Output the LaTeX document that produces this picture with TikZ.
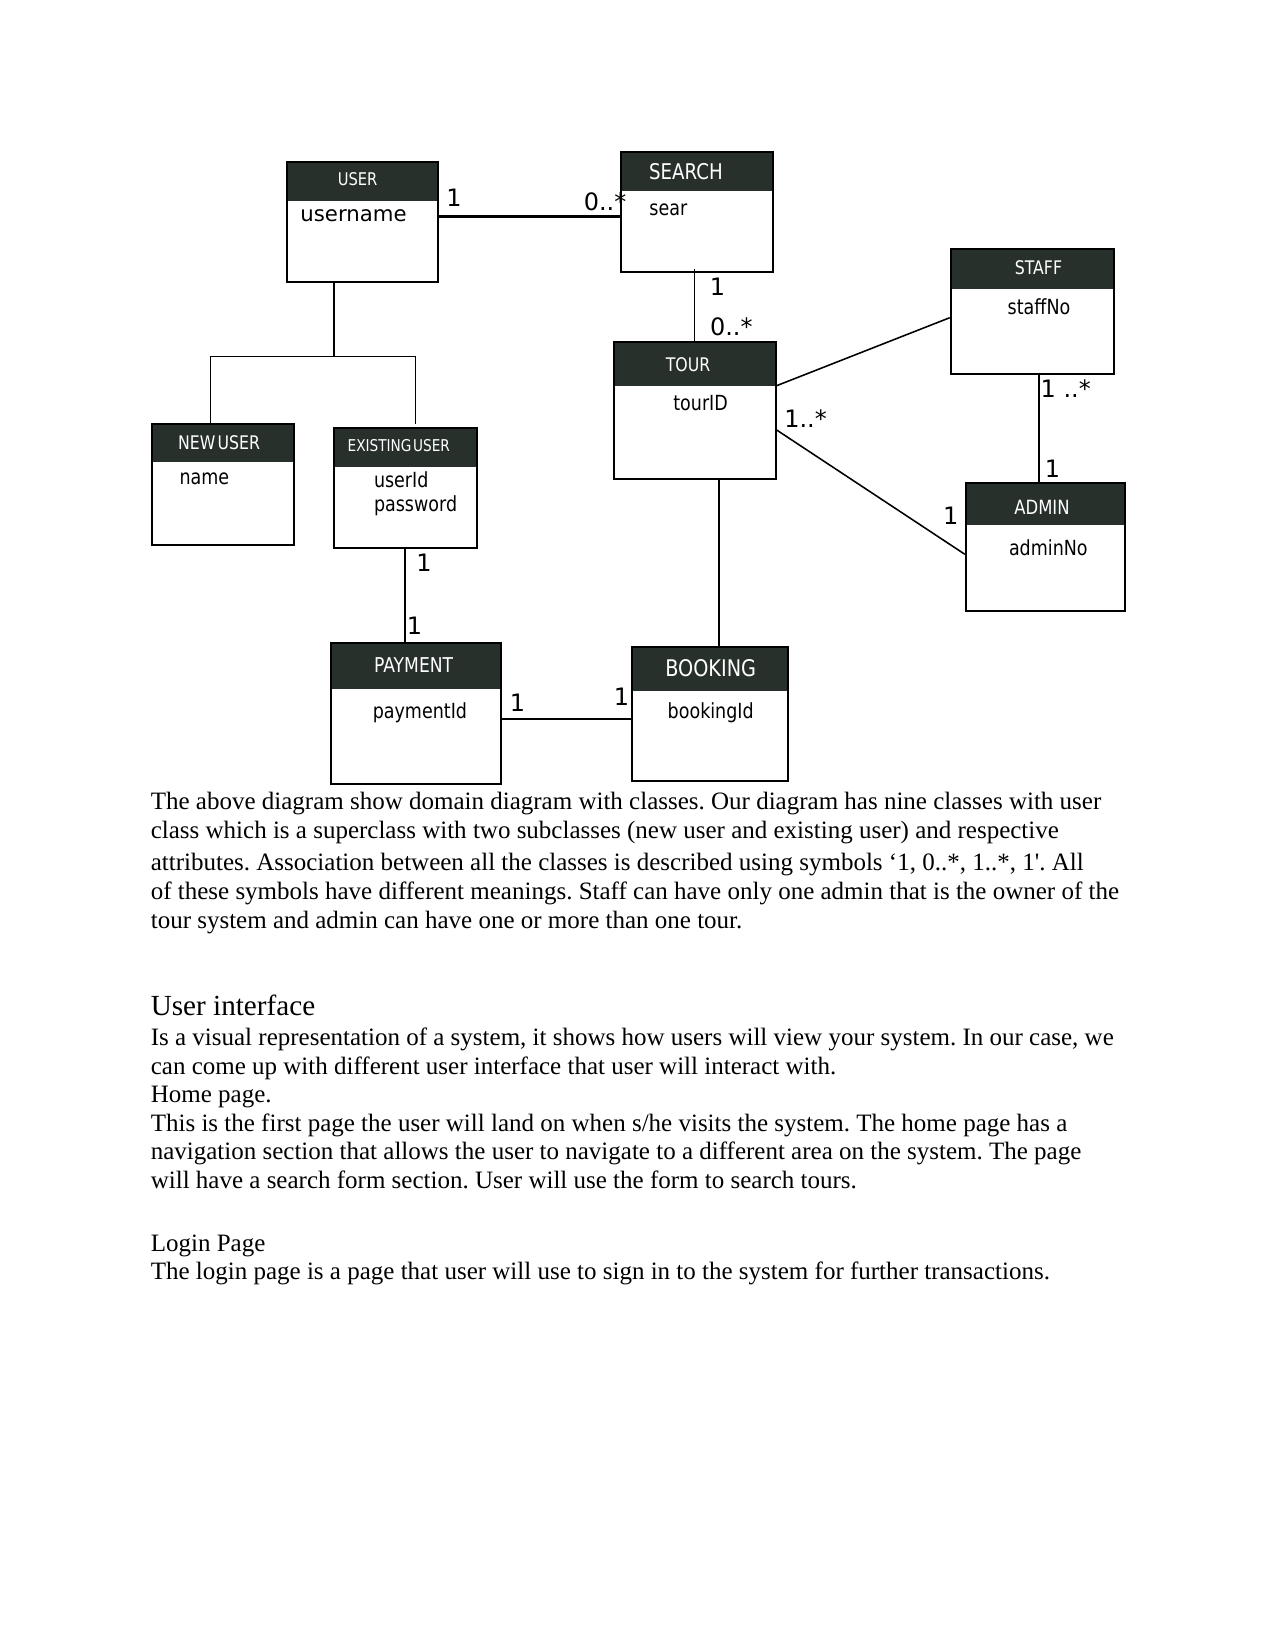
\documentclass[tikz,border=0pt]{standalone}
\usepackage{fontspec}
\usetikzlibrary{fit,calc}
\newfontfamily\bodyfont{Liberation Serif}
\newfontfamily\dvs{DejaVu Sans}
\newfontfamily\dvc{DejaVu Sans}[FakeStretch=0.84]
\definecolor{hdr}{RGB}{40,48,44}
\frenchspacing
\begin{document}
\begin{tikzpicture}[x=0.48pt,y=-0.48pt,
  hdrbox/.style={inner sep=0pt, fill=hdr, draw=none},
  clsbox/.style={inner sep=0pt, draw=black, line width=0.9pt},
  thickbox/.style={clsbox, line width=1.1pt},
  htext/.style={text=white, font=\dvc\fontsize{9}{10}\selectfont, anchor=base, inner sep=0pt},
  hbig/.style={htext, font=\dvc\fontsize{10.4}{11}\selectfont},
  hsmall/.style={htext, font=\dvc\fontsize{7.8}{9}\selectfont},
  atext/.style={font=\dvc\fontsize{10}{12}\selectfont, inner sep=0pt},
  mult/.style={font=\dvs\fontsize{11.5}{12}\selectfont, inner sep=0pt},
  conn/.style={line width=0.75pt},
  bodyline/.style={font=\bodyfont\fontsize{12}{14}\selectfont, anchor=base west, inner sep=0pt},
  headline/.style={font=\bodyfont\fontsize{14}{16}\selectfont, anchor=base west, inner sep=0pt}]
\useasboundingbox[fill=white] (0,0) rectangle (1275,1650);

% ---------- class boxes ----------
% USER
\node[hdrbox, fit={(287.3,161.7)(438,200.7)}] (userh) {};
\node[thickbox, fit={(287.3,161.7)(438,281.7)}] (user) {};
\node[htext, font=\dvc\fontsize{8.4}{10}\selectfont] (usert) at (357.6,185.7) {USER};
\node[atext, font=\dvs\fontsize{10.2}{12}\selectfont, anchor=base west] (usera) at (300,221.5) {username};
% SEARCH
\node[hdrbox, fit={(620.6,151.7)(772.6,190.7)}] (searchh) {};
\node[clsbox, fit={(620.6,151.7)(772.6,272)}] (search) {};
\node[hbig] (searcht) at (685.9,179.3) {SEARCH};
\node[atext, anchor=base west] (searcha) at (649,216) {sear};
% TOUR
\node[hdrbox, fit={(614,341.7)(775.7,385.7)}] (tourh) {};
\node[clsbox, fit={(614,341.7)(775.7,478.7)}] (tour) {};
\node[htext] (tourt) at (688,371.5) {TOUR};
\node[atext, anchor=base] (toura) at (700.6,410) {tourID};
% STAFF
\node[hdrbox, fit={(950.7,248.7)(1114.2,289)}] (staffh) {};
\node[clsbox, fit={(950.7,248.7)(1114.2,374)}] (staff) {};
\node[htext] (stafft) at (1038.4,274.3) {STAFF};
\node[atext, anchor=base] (staffa) at (1039,315) {staffNo};
% ADMIN
\node[hdrbox, fit={(965.8,483.3)(1124.6,524.7)}] (adminh) {};
\node[clsbox, fit={(965.8,483.3)(1124.6,611)}] (admin) {};
\node[htext, font=\dvc\fontsize{9.4}{10}\selectfont] (admint) at (1042,514.3) {ADMIN};
\node[atext, anchor=base] (admina) at (1048.3,555) {adminNo};
% NEW USER
\node[hdrbox, fit={(151.8,424.3)(294,462.3)}] (newuserh) {};
\node[thickbox, fit={(151.8,424.3)(294,545)}] (newuser) {};
\node[htext] (newusert) at (219.1,449.3) {NEW\hspace{0.12em}USER};
\node[atext, anchor=base west] (newusera) at (179.1,484) {name};
% EXISTING USER
\node[hdrbox, fit={(333.6,427.7)(476.7,466.7)}] (existh) {};
\node[clsbox, fit={(333.6,427.7)(476.7,548.3)}] (exist) {};
\node[hsmall] (existt) at (398.8,451.7) {EXISTING\hspace{0.1em}USER};
\node[atext, anchor=base west] (exista) at (373.6,487.3) {userId};
\node[atext, anchor=base west] (existb) at (373.6,511.7) {password};
% PAYMENT
\node[hdrbox, fit={(330.7,642.7)(501,688.7)}] (paymenth) {};
\node[thickbox, fit={(330.7,642.7)(501,784.3)}] (payment) {};
\node[htext, font=\dvc\fontsize{9.8}{10}\selectfont] (paymentt) at (413.6,672.7) {PAYMENT};
\node[atext, anchor=base] (paymenta) at (419.9,718.3) {paymentId};
% BOOKING
\node[hdrbox, fit={(631.6,646.7)(788,690.7)}] (bookingh) {};
\node[clsbox, fit={(631.6,646.7)(788,781)}] (booking) {};
\node[hbig, font=\dvc\fontsize{11}{12}\selectfont] (bookingt) at (710.7,676.7) {BOOKING};
\node[atext, anchor=base] (bookinga) at (710.7,718.3) {bookingId};

% ---------- connectors ----------
\draw[conn, line width=1.2pt] (user.east |- 0,216.3) -- (search.west |- 0,216.3);
\draw[conn, line width=0.9pt] (694.5,269.3) -- (tour.north -| 694.5,0);
% generalisation
\coordinate (gtop) at (334,356.7);
\coordinate (gleft) at (210.7,356.7);
\coordinate (gright) at (415.7,356.7);
\coordinate (gexist) at (415.7,424);
\draw[conn] (user.south -| gtop) -- (gtop);
\draw[conn] (newuser.north -| gleft) -- (gleft) -- (gright) -- (gexist);
\draw[conn] (tour.east |- 0,385.7) -- (staff.west |- 0,317.7);
\draw[conn] (tour.east |- 0,430) -- (admin.west |- 0,554.3);
\draw[conn] (staff.south -| 1039,0) -- (admin.north -| 1039,0);
\draw[conn] (exist.south -| 405,0) -- (payment.north -| 405,0);
\draw[conn] (payment.east |- 0,719) -- (booking.west |- 0,719);
\draw[conn] (tour.south -| 719,0) -- (booking.north -| 719,0);

% ---------- multiplicities ----------
\node[mult] (m1) at (454,198) {1};
\node[mult] (m2) at (605,202) {0..*};
\node[mult] (m3) at (717.6,287) {1};
\node[mult] (m4) at (731.3,327) {0..*};
\node[mult] (m5) at (805.6,419) {1..*};
\node[mult] (m6) at (950.7,516) {1};
\node[mult] (m7) at (1065.7,389) {1 ..*};
\node[mult] (m8) at (1052.4,469) {1};
\node[mult] (m9) at (424,563) {1};
\node[mult] (m10) at (414.4,626) {1};
\node[mult] (m11) at (517.5,703) {1};
\node[mult] (m12) at (621.5,697) {1};

% ---------- body text ----------
\node[bodyline] (t1) at (150.4,809.5) {The above diagram show domain diagram with classes. Our diagram has nine classes with user};
\node[bodyline] (t2) at (150.4,838.5) {class which is a superclass with two subclasses (new user and existing user) and respective};
\node[bodyline] (t3) at (150.4,870) {attributes. Association between all the classes is described using symbols ‘1, 0..*, 1..*, 1'. All};
\node[bodyline] (t4) at (150.4,899.5) {of these symbols have different meanings. Staff can have only one admin that is the owner of the};
\node[bodyline] (t5) at (150.4,928.5) {tour system and admin can have one or more than one tour.};
\node[headline] (h1) at (150.4,1015.5) {User interface};
\node[bodyline] (t6) at (150.4,1045) {Is a visual representation of a system, it shows how users will view your system. In our case, we};
\node[bodyline] (t7) at (150.4,1074) {can come up with different user interface that user will interact with.};
\node[bodyline] (t8) at (150.4,1102) {Home page.};
\node[bodyline] (t9) at (150.4,1131) {This is the first page the user will land on when s/he visits the system. The home page has a};
\node[bodyline] (t10) at (150.4,1159.5) {navigation section that allows the user to navigate to a different area on the system. The page};
\node[bodyline] (t11) at (150.4,1188.5) {will have a search form section. User will use the form to search tours.};
\node[bodyline] (t12) at (150.4,1251) {Login Page};
\node[bodyline] (t13) at (150.4,1279) {The login page is a page that user will use to sign in to the system for further transactions.};
\end{tikzpicture}
\end{document}
